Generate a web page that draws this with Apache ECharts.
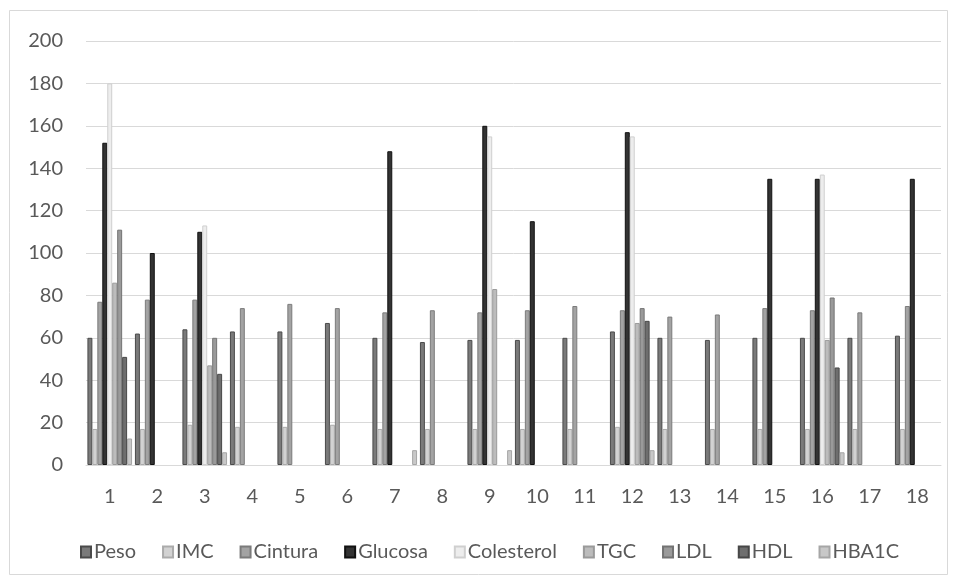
<!DOCTYPE html>
<html>
<head>
<meta charset="utf-8">
<script src="https://cdn.jsdelivr.net/npm/echarts@6/dist/echarts.min.js"></script>
<style>html,body{margin:0;padding:0;background:#fff}#c{width:956px;height:583px}</style>
</head>
<body>
<div id="c"></div>
<script>
const categories = ['1','2','3','4','5','6','7','8','9','10','11','12','13','14','15','16','17','18'];
const yTicks = [0,20,40,60,80,100,120,140,160,180,200];
const peso       = [60,62,64,63,63,67,60,58,59,59,60,63,60,59,60,60,60,61];
const imc        = [17,17,19,18,18,19,17,17,17,17,17,18,17,17,17,17,17,17];
const cintura    = [77,78,78,74,76,74,72,73,72,73,75,73,70,71,74,73,72,75];
const glucosa    = [152,100,110,null,null,null,148,null,160,115,null,157,null,null,135,135,null,135];
const colesterol = [180,null,113,null,null,null,null,null,155,null,null,155,null,null,null,137,null,null];
const tgc        = [86,null,47,null,null,null,null,null,83,null,null,67,null,null,null,59,null,null];
const ldl        = [111,null,60,null,null,null,null,null,null,null,null,74,null,null,null,79,null,null];
const hdl        = [51,null,43,null,null,null,null,null,null,null,null,68,null,null,null,46,null,null];
const hba1c      = [12.5,null,6,null,null,null,7,null,7,null,null,7,null,null,null,6,null,null];

const seriesDefs = [
  ['Peso', peso, '#7a7a7a', '#4a4a4a'],
  ['IMC', imc, '#d2d2d2', '#ababab'],
  ['Cintura', cintura, '#a3a3a3', '#7b7b7b'],
  ['Glucosa', glucosa, '#333333', '#111111'],
  ['Colesterol', colesterol, '#ededed', '#cfcfcf'],
  ['TGC', tgc, '#bcbcbc', '#9a9a9a'],
  ['LDL', ldl, '#9a9a9a', '#737373'],
  ['HDL', hdl, '#6e6e6e', '#474747'],
  ['HBA1C', hba1c, '#c8c8c8', '#a6a6a6']
];
const FONT = "Lato, 'Open Sans', sans-serif";
const chart = echarts.init(document.getElementById('c'), null, {renderer:'canvas'});
chart.setOption({
  animation: false,
  backgroundColor: '#ffffff',
  graphic: [{
    type: 'rect', shape: {x: 9.5, y: 10.5, width: 938, height: 564},
    style: {fill: 'none', stroke: '#d9d9d9', lineWidth: 1}, silent: true
  }],
  grid: {left: 86, right: 15, top: 41, bottom: 118, containLabel: false},
  legend: {
    left: 75, top: 537, itemWidth: 10, itemHeight: 11, itemGap: 26,
    icon: 'rect',
    textStyle: {color: '#595959', fontSize: 20, fontFamily: FONT, padding: [0,0,0,-2]},
    data: seriesDefs.map(s => s[0])
  },
  xAxis: {
    type: 'category', data: categories,
    axisLine: {lineStyle: {color: '#d9d9d9', width: 1}},
    axisTick: {show: false},
    axisLabel: {color: '#595959', fontSize: 20, fontFamily: FONT, margin: 22}
  },
  yAxis: {
    type: 'value', min: yTicks[0], max: yTicks[yTicks.length-1], interval: 20,
    axisLine: {show: false}, axisTick: {show: false},
    splitLine: {lineStyle: {color: '#d9d9d9', width: 1}},
    axisLabel: {color: '#595959', fontSize: 20, fontFamily: FONT, margin: 23}
  },
  series: seriesDefs.map(s => ({
    name: s[0], type: 'bar', data: s[1],
    barGap: '0%', barCategoryGap: '6%',
    itemStyle: {color: s[2], borderColor: s[3], borderWidth: 1}
  }))
});
</script>
</body>
</html>
